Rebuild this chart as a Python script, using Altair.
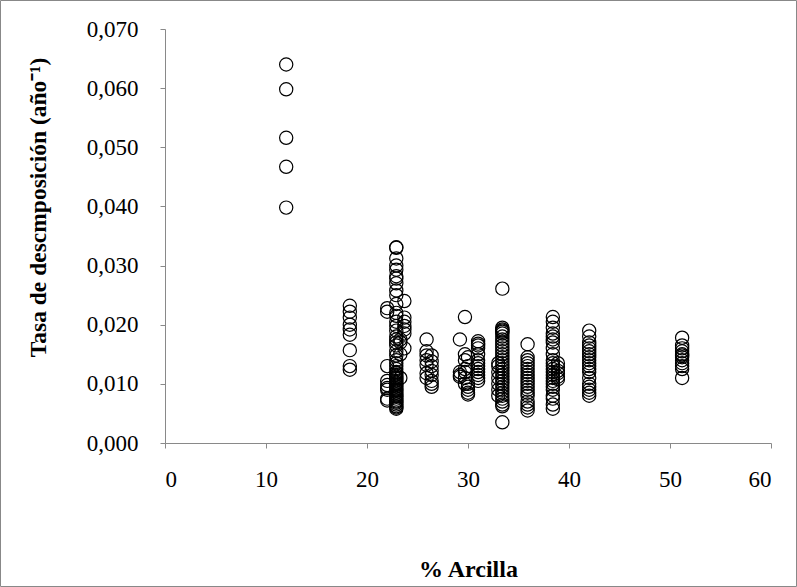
import altair as alt
import pandas as pd

# Clay % groups and decomposition rates
x12 = [0.0640, 0.0598, 0.0516, 0.0467, 0.0398]
x18 = [0.0232, 0.0222, 0.0212, 0.0200, 0.0192, 0.0183, 0.0157, 0.0130, 0.0124]
x22 = [0.0228, 0.0222, 0.0130, 0.0105, 0.0098, 0.0093, 0.0090, 0.0075, 0.0072]
x229 = [0.0331, 0.0330, 0.0312, 0.0300, 0.0293, 0.0282, 0.0278, 0.0270, 0.0258, 0.0250,
        0.0235, 0.0220, 0.0215, 0.0205, 0.0198, 0.0190, 0.0180, 0.0175, 0.0170, 0.0165,
        0.0155, 0.0148, 0.0140, 0.0135, 0.0130, 0.0125, 0.0120, 0.0118, 0.0115, 0.0112,
        0.0110, 0.0108, 0.0105, 0.0102, 0.0100, 0.0098, 0.0095, 0.0092, 0.0090, 0.0088,
        0.0085, 0.0082, 0.0080, 0.0078, 0.0075, 0.0072, 0.0070, 0.0068, 0.0065, 0.0062,
        0.0060, 0.0058]
x233 = [0.0175, 0.0170, 0.0150, 0.0110]
x237 = [0.0240, 0.0212, 0.0205, 0.0198, 0.0192, 0.0185, 0.0160]
x259 = [0.0175, 0.0155, 0.0148, 0.0140, 0.0132, 0.0118, 0.0110]
x264 = [0.0148, 0.0138, 0.0130, 0.0122, 0.0115, 0.0105, 0.0100, 0.0095]
x292 = [0.0175, 0.0120, 0.0115, 0.0112]
x297 = [0.0213, 0.0150, 0.0140, 0.0125, 0.0120, 0.0110, 0.0100]
x300 = [0.0145, 0.0130, 0.0100, 0.0095, 0.0090, 0.0085, 0.0082]
x310 = [0.0172, 0.0168, 0.0165, 0.0160, 0.0150, 0.0140, 0.0135, 0.0130, 0.0125, 0.0120,
        0.0115, 0.0110, 0.0105]
x330 = [0.0135, 0.0130, 0.0120, 0.0110, 0.0100, 0.0090, 0.0080]
x334 = [0.0261, 0.0195, 0.0192, 0.0190, 0.0188, 0.0185, 0.0180, 0.0175, 0.0170, 0.0165,
        0.0160, 0.0155, 0.0150, 0.0145, 0.0140, 0.0135, 0.0130, 0.0125, 0.0120, 0.0115,
        0.0110, 0.0105, 0.0100, 0.0095, 0.0090, 0.0085, 0.0080, 0.0075, 0.0070, 0.0065,
        0.0062, 0.0035]
x359 = [0.0167, 0.0145, 0.0140, 0.0135, 0.0130, 0.0125, 0.0120, 0.0115, 0.0110, 0.0105,
        0.0100, 0.0095, 0.0090, 0.0085, 0.0080, 0.0070, 0.0065, 0.0060, 0.0055]
x384 = [0.0213, 0.0205, 0.0195, 0.0185, 0.0180, 0.0175, 0.0170, 0.0160, 0.0150, 0.0140,
        0.0135, 0.0130, 0.0125, 0.0120, 0.0115, 0.0110, 0.0105, 0.0100, 0.0095, 0.0090,
        0.0080, 0.0075, 0.0065, 0.0058]
x389 = [0.0135, 0.0128, 0.0122, 0.0118, 0.0112, 0.0108]
x420 = [0.0190, 0.0180, 0.0170, 0.0165, 0.0160, 0.0155, 0.0150, 0.0145, 0.0140, 0.0135,
        0.0130, 0.0125, 0.0120, 0.0110, 0.0100, 0.0095, 0.0090, 0.0085, 0.0080]
x512 = [0.0178, 0.0165, 0.0160, 0.0155, 0.0150, 0.0148, 0.0145, 0.0140, 0.0135, 0.0130,
        0.0125, 0.0110]

groups = [
    (12.0, x12), (18.3, x18), (22.0, x22), (22.9, x229), (23.3, x233), (23.7, x237),
    (25.9, x259), (26.4, x264), (29.2, x292), (29.7, x297), (30.0, x300), (31.0, x310),
    (33.0, x330), (33.4, x334), (35.9, x359), (38.4, x384), (38.9, x389), (42.0, x420),
    (51.2, x512),
]

x_ticks = [0, 10, 20, 30, 40, 50, 60]
y_ticks = [0.0, 0.01, 0.02, 0.03, 0.04, 0.05, 0.06, 0.07]

rows = []
for xv, ys in groups:
    for yv in ys:
        rows.append({"arcilla": xv, "tasa": yv})
df = pd.DataFrame(rows)

FONT = "Liberation Serif"
GRAY = "#898989"

points = alt.Chart(df).mark_point(
    shape="circle", filled=False, size=175, stroke="black", strokeWidth=1.2, opacity=1
).encode(
    x=alt.X("arcilla:Q", scale=alt.Scale(domain=[0, 60], nice=False),
            axis=alt.Axis(values=x_ticks, title="% Arcilla", grid=False,
                          domainColor=GRAY, tickColor=GRAY, tickSize=5,
                          labelFont=FONT, labelFontSize=23, labelColor="black",
                          labelPadding=20, titleFont=FONT, titleFontSize=24,
                          titleFontWeight="bold", titleColor="black",
                          titleY=126, titleBaseline="middle")),
    y=alt.Y("tasa:Q", scale=alt.Scale(domain=[0, 0.07], nice=False),
            axis=alt.Axis(values=y_ticks, title="Tasa de descmposición (año⁻¹)",
                          grid=False, domainColor=GRAY, tickColor=GRAY, tickSize=5,
                          labelExpr="replace(format(datum.value, '.3f'), '.', ',')",
                          labelFont=FONT, labelFontSize=23, labelColor="black",
                          labelPadding=22, titleFont=FONT, titleFontSize=23.5,
                          titleFontWeight="bold", titleColor="black",
                          titleX=-127, titleY=178, titleAngle=-90,
                          titleAlign="center", titleBaseline="middle")),
)

border = alt.Chart(pd.DataFrame({"k": [0]})).mark_rect(
    fill=None, stroke="#888888", strokeWidth=1
).encode(x=alt.value(-164.5), x2=alt.value(631.5), y=alt.value(-28.5), y2=alt.value(557.5))

chart = alt.layer(border, points).properties(
    width=606, height=414,
    padding={"left": 165, "top": 29, "right": 26, "bottom": 144},
    autosize=alt.AutoSizeParams(type="none"),
    background="white",
).configure_view(stroke=None)

chart.save("out.html", embed_options={"renderer": "svg", "actions": False})
